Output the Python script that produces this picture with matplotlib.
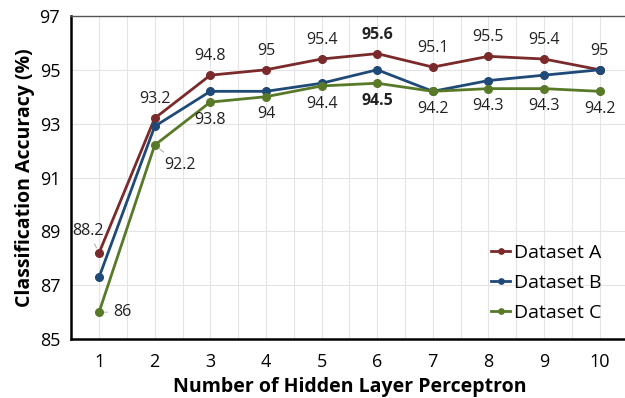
import numpy as np
from matplotlib import pyplot as plt

x = np.arange(1, 11)
acc_a = [88.2, 93.2, 94.8, 95.0, 95.4, 95.6, 95.1, 95.5, 95.4, 95.0]
acc_b = [87.3, 92.9, 94.2, 94.2, 94.5, 95.0, 94.2, 94.6, 94.8, 95.0]
acc_c = [86.0, 92.2, 93.8, 94.0, 94.4, 94.5, 94.2, 94.3, 94.3, 94.2]
labels_a = ["88.2", "93.2", "94.8", "95", "95.4", "95.6", "95.1", "95.5", "95.4", "95"]
labels_c = ["86", "92.2", "93.8", "94", "94.4", "94.5", "94.2", "94.3", "94.3", "94.2"]

plt.rcParams['font.family'] = ['Open Sans', 'DejaVu Sans']

col_a = "#7a2a2a"
col_b = "#1f4a78"
col_c = "#587a28"

fig = plt.figure(figsize=(6.25, 3.98), dpi=100)
ax = fig.add_axes([0.114, 0.148, 0.89, 0.812])

ax.plot(x, acc_a, color=col_a, marker="o", ms=5.5, lw=2, label="Dataset A", zorder=3)
ax.plot(x, acc_b, color=col_b, marker="o", ms=5.5, lw=2, label="Dataset B", zorder=3)
ax.plot(x, acc_c, color=col_c, marker="o", ms=5.5, lw=2, label="Dataset C", zorder=3)

fs = 11.5
leader = dict(arrowstyle="-", color="#aaaaaa", lw=0.7, shrinkA=2, shrinkB=4)
# labels for dataset A (above)
for i, (xi, yi) in enumerate(zip(x, acc_a)):
    w = "bold" if i == 5 else "normal"
    if i == 0:
        ax.annotate(labels_a[i], (xi, yi), xytext=(-8, 16), textcoords="offset points",
                    ha="center", va="center", fontsize=fs, color="#222222",
                    arrowprops=leader)
    else:
        ax.annotate(labels_a[i], (xi, yi), xytext=(0, 8), textcoords="offset points",
                    ha="center", va="bottom", fontsize=fs, fontweight=w, color="#222222")

# labels for dataset C (below)
for i, (xi, yi) in enumerate(zip(x, acc_c)):
    w = "bold" if i == 5 else "normal"
    if i == 0:
        ax.annotate(labels_c[i], (xi, yi), xytext=(10, 0), textcoords="offset points",
                    ha="left", va="center", fontsize=fs, color="#222222",
                    arrowprops=leader)
    elif i == 1:
        ax.annotate(labels_c[i], (xi, yi), xytext=(7, -14), textcoords="offset points",
                    ha="left", va="center", fontsize=fs, color="#222222",
                    arrowprops=leader)
    else:
        ax.annotate(labels_c[i], (xi, yi), xytext=(0, -7), textcoords="offset points",
                    ha="center", va="top", fontsize=fs, fontweight=w, color="#222222")

ax.set_xlim(0.5, 10.45)
ax.set_ylim(85, 97)
ax.set_xticks(x)
ax.set_xticks(np.arange(0.5, 10.6, 0.5), minor=True)
ax.set_yticks(np.arange(85, 98, 2))
ax.tick_params(axis="both", which="both", length=0, labelsize=13, pad=10)
ax.tick_params(axis="y", pad=8)
ax.grid(True, which="major", color="#e4e4e4", lw=0.8)
ax.grid(True, which="minor", axis="x", color="#e4e4e4", lw=0.8)
ax.set_axisbelow(True)

ax.spines["left"].set_linewidth(1.8)
ax.spines["bottom"].set_linewidth(1.8)
ax.spines["top"].set_color("#555555")
ax.spines["top"].set_linewidth(1.0)
ax.spines["right"].set_visible(False)

ax.set_xlabel("Number of Hidden Layer Perceptron", fontsize=14, fontweight="bold", labelpad=4)
ax.set_ylabel("Classification Accuracy (%)", fontsize=14, fontweight="bold", labelpad=3)

ax.legend(loc="lower right", bbox_to_anchor=(0.985, 0.0), frameon=False, fontsize=14,
          handlelength=1.0, handletextpad=0.2, labelspacing=0.6, markerscale=0.7)

plt.savefig("out.png", dpi=100)
